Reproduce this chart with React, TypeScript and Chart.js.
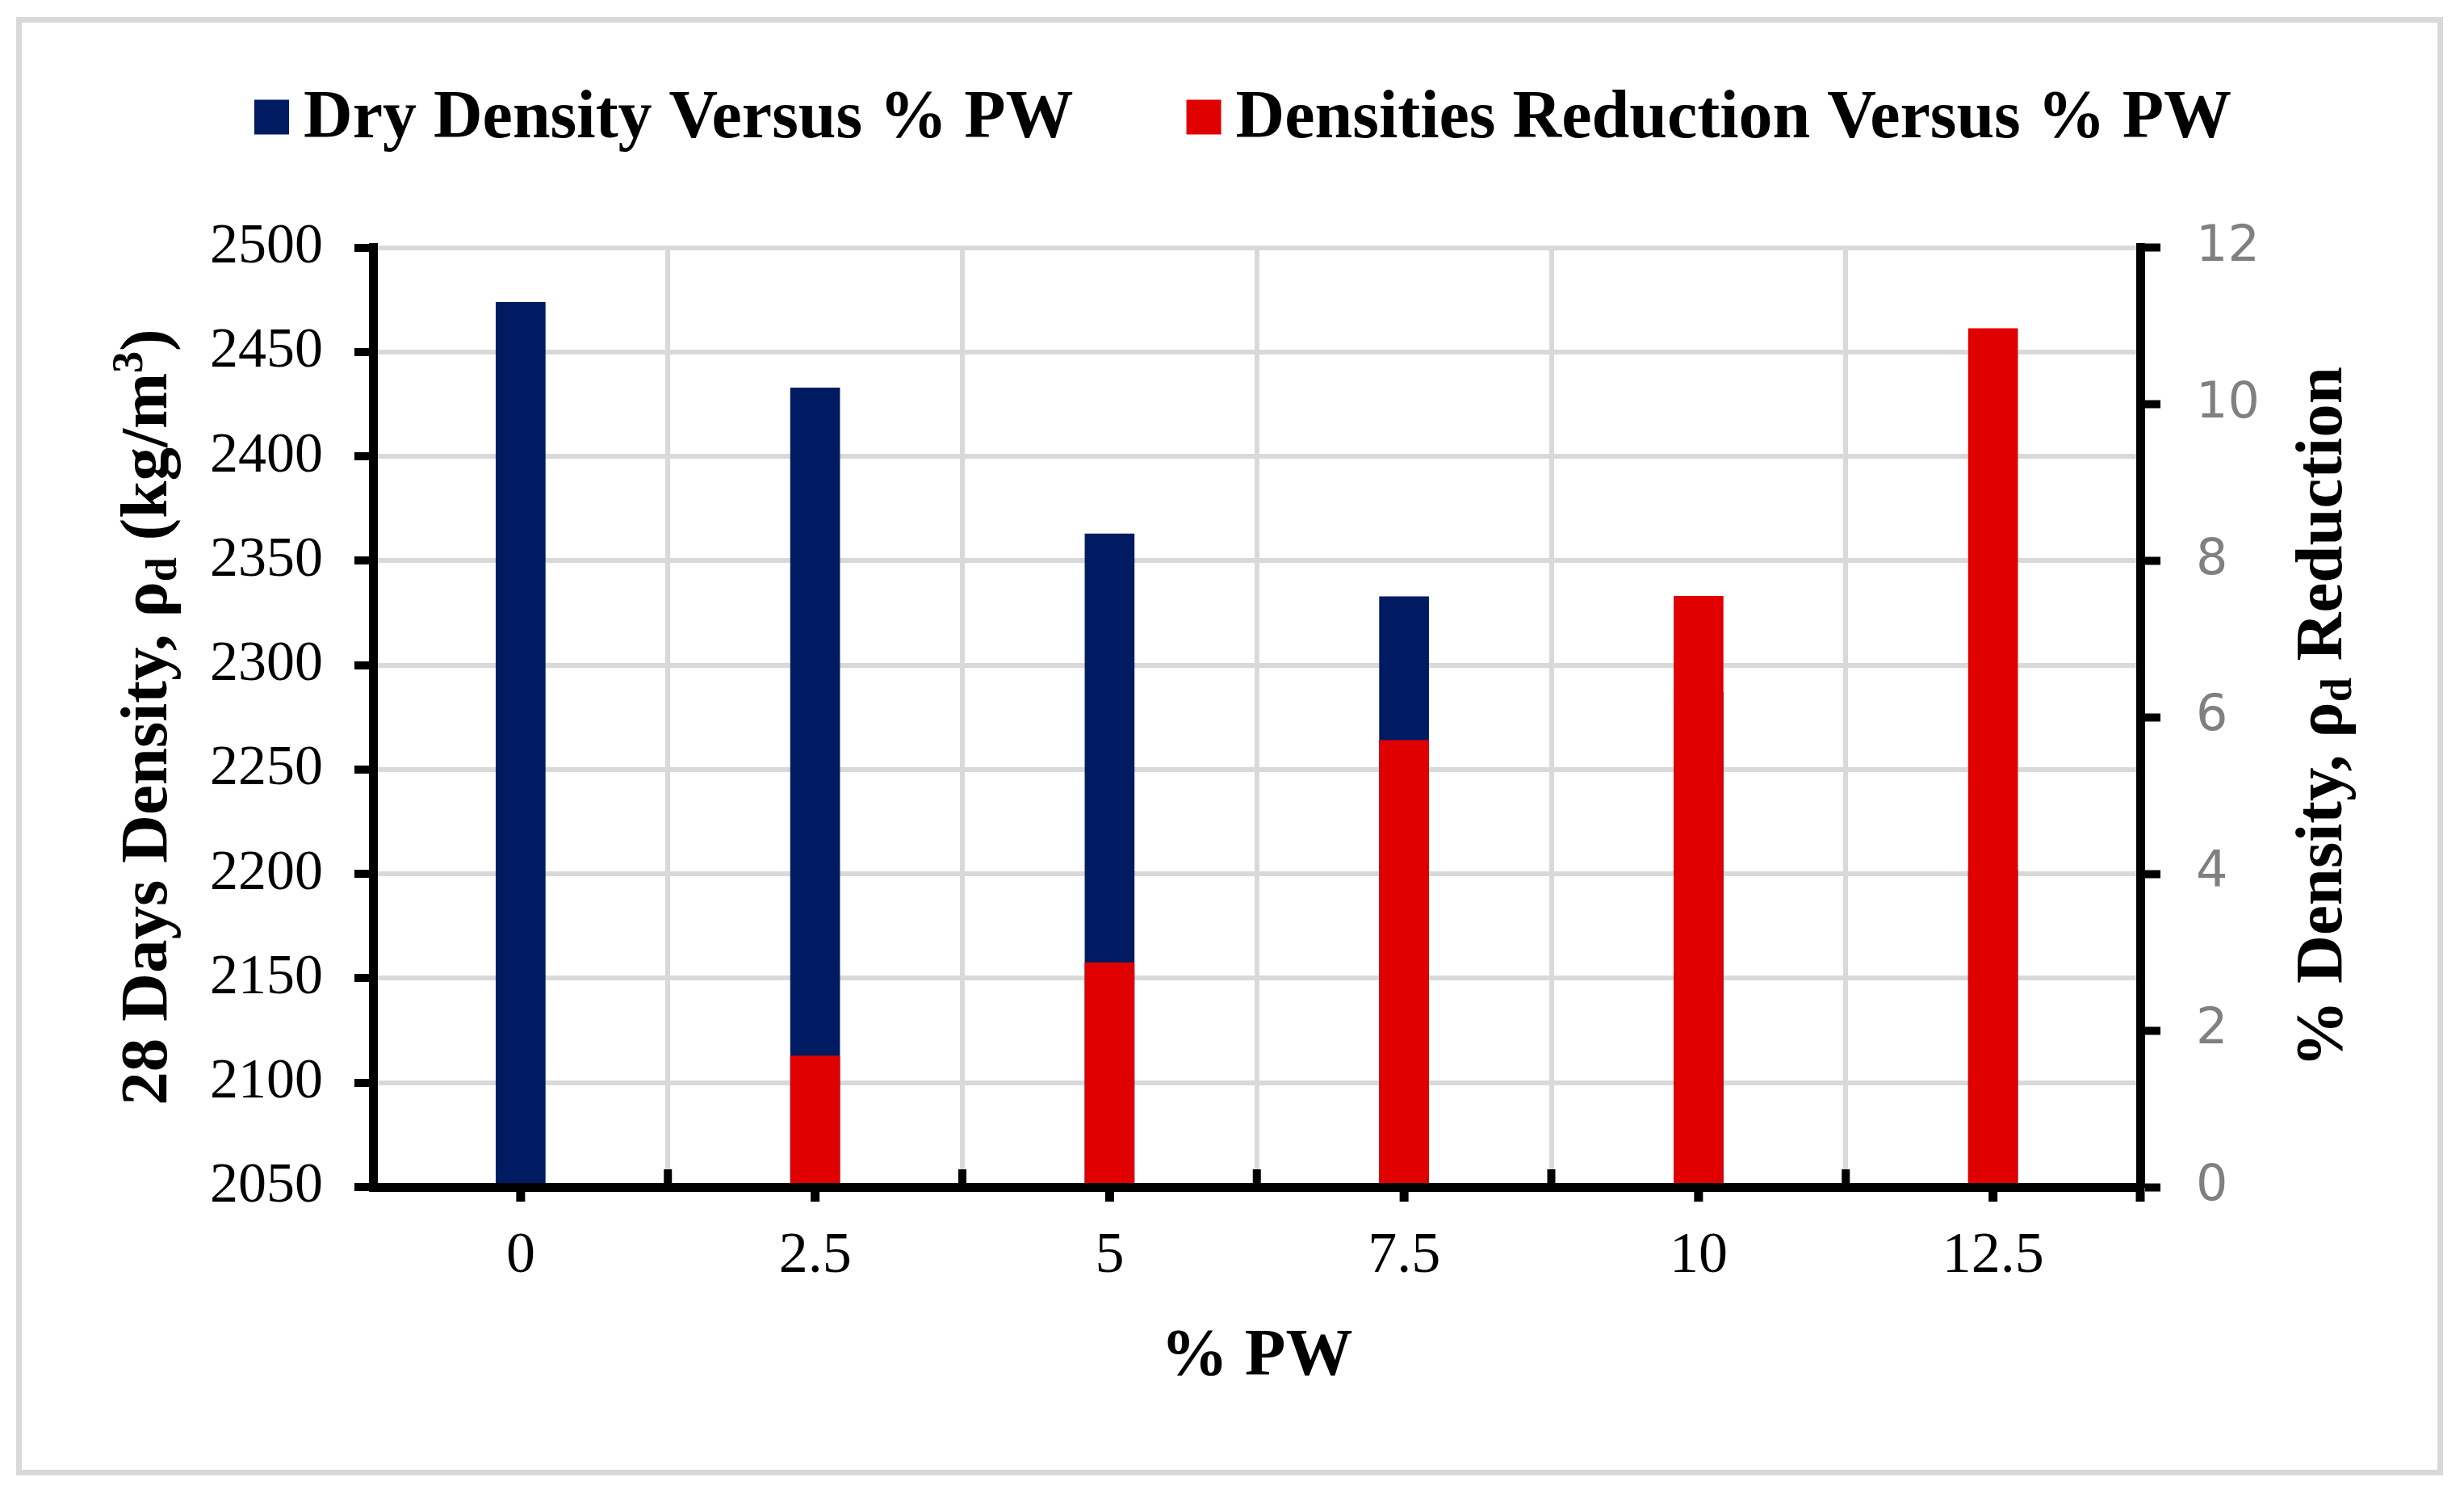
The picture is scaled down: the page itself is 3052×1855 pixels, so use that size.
import React, { useEffect, useRef } from 'react';
import { Chart, registerables } from 'chart.js';

Chart.register(...registerables);

// ---------------- data ----------------
const pwLabels = ['0', '2.5', '5', '7.5', '10', '12.5'];
const dryDensity = [2474, 2433, 2363, 2333, 2287, 2202];
const densityReduction = [0, 1.68, 2.87, 5.71, 7.55, 10.97];
const seriesNames = ['Dry Density Versus % PW', 'Densities Reduction Versus % PW'];
const seriesColors = ['#001b61', '#e00000'];
const leftAxisRange = [2050, 2500, 50];
const rightAxisRange = [0, 12, 2];
const xTitle = '% PW';

// ---------------- layout / style ----------------
const W = 3052;
const H = 1855;
const SERIF = '"Liberation Serif", "Times New Roman", serif';
const SANS = '"DejaVu Sans", sans-serif';
const AXIS_W = 11;
const GRID = '#d9d9d9';

type Part = { text: string; size: number; dy: number };

function drawRich(ctx: CanvasRenderingContext2D, parts: Part[], x: number, y: number, angle: number) {
  ctx.save();
  ctx.translate(x, y);
  ctx.rotate(angle);
  ctx.textBaseline = 'alphabetic';
  ctx.textAlign = 'left';
  ctx.fillStyle = '#000';
  let total = 0;
  const widths: number[] = [];
  for (const p of parts) {
    ctx.font = `bold ${p.size}px ${SERIF}`;
    const w = ctx.measureText(p.text).width;
    widths.push(w);
    total += w;
  }
  let cx = -total / 2;
  parts.forEach((p, i) => {
    ctx.font = `bold ${p.size}px ${SERIF}`;
    ctx.fillText(p.text, cx, p.dy);
    cx += widths[i];
  });
  ctx.restore();
}

const decorPlugin = {
  id: 'decor',
  beforeDraw(chart: any) {
    const ctx: CanvasRenderingContext2D = chart.ctx;
    ctx.save();
    ctx.fillStyle = '#fff';
    ctx.fillRect(0, 0, W, H);
    ctx.strokeStyle = GRID;
    ctx.lineWidth = 7;
    ctx.strokeRect(23.5, 24.5, 2999, 1799);
    ctx.restore();
  },
  afterDraw(chart: any) {
    const ctx: CanvasRenderingContext2D = chart.ctx;
    const area = chart.chartArea;
    const xs = chart.scales.x;
    ctx.save();
    ctx.strokeStyle = '#000';
    // center ticks (outward, below axis)
    ctx.lineWidth = 11;
    for (let i = 0; i < pwLabels.length; i++) {
      const px = xs.getPixelForValue(i);
      ctx.beginPath();
      ctx.moveTo(px, area.bottom);
      ctx.lineTo(px, area.bottom + 18);
      ctx.stroke();
    }
    // right axis extension below
    ctx.beginPath();
    ctx.moveTo(area.right, area.bottom);
    ctx.lineTo(area.right, area.bottom + 18);
    ctx.stroke();
    // boundary ticks (inward, above axis)
    ctx.lineWidth = 10;
    for (let i = 0; i < pwLabels.length - 1; i++) {
      const px = (xs.getPixelForValue(i) + xs.getPixelForValue(i + 1)) / 2;
      ctx.beginPath();
      ctx.moveTo(px, area.bottom - 22);
      ctx.lineTo(px, area.bottom);
      ctx.stroke();
    }
    ctx.restore();

    // legend
    ctx.save();
    ctx.font = `bold 84px ${SERIF}`;
    ctx.textBaseline = 'alphabetic';
    ctx.textAlign = 'left';
    let bx = 315;
    seriesNames.forEach((name, i) => {
      ctx.fillStyle = seriesColors[i];
      ctx.fillRect(bx, 123.5, 43, 43);
      ctx.fillStyle = '#000';
      const tx = bx + 61;
      ctx.fillText(name, tx, 170);
      bx = tx + ctx.measureText(name).width + 140;
    });
    ctx.restore();

    // axis titles
    drawRich(ctx, [
      { text: '28 Days Density, ρ', size: 83, dy: 0 },
      { text: 'd', size: 54, dy: 12 },
      { text: ' (kg/m', size: 83, dy: 0 },
      { text: '3', size: 54, dy: -30 },
      { text: ')', size: 83, dy: 0 },
    ], 206, 888, -Math.PI / 2);
    drawRich(ctx, [
      { text: '% Density, ρ', size: 83, dy: 0 },
      { text: 'd', size: 54, dy: 12 },
      { text: ' Reduction', size: 83, dy: 0 },
    ], 2900, 888, -Math.PI / 2);
    drawRich(ctx, [{ text: xTitle, size: 83, dy: 0 }], (area.left + area.right) / 2, 1702, 0);
  },
};

export default function App() {
  const ref = useRef<HTMLCanvasElement>(null);
  useEffect(() => {
    if (!ref.current) return;
    const chart = new Chart(ref.current, {
      type: 'bar',
      data: {
        labels: pwLabels,
        datasets: [
          {
            label: seriesNames[0],
            data: dryDensity,
            backgroundColor: seriesColors[0],
            yAxisID: 'y',
            order: 2,
            grouped: false,
            barPercentage: 0.169,
            categoryPercentage: 1,
            borderWidth: 0,
          } as any,
          {
            label: seriesNames[1],
            data: densityReduction,
            backgroundColor: seriesColors[1],
            yAxisID: 'y1',
            order: 1,
            grouped: false,
            barPercentage: 0.169,
            categoryPercentage: 1,
            borderWidth: 0,
          } as any,
        ],
      },
      options: {
        responsive: false,
        devicePixelRatio: 1,
        animation: false,
        events: [],
        layout: { padding: { top: 306.7, left: 0, right: 0, bottom: 0 } },
        plugins: {
          legend: { display: false },
          tooltip: { enabled: false },
          title: { display: false },
        },
        scales: {
          x: {
            type: 'category',
            offset: true,
            grid: { offset: true, color: GRID, lineWidth: 6, drawTicks: false },
            border: { display: true, color: '#000', width: AXIS_W, z: 1 } as any,
            ticks: {
              color: '#000',
              font: { family: SERIF, size: 72 },
              padding: 43,
              maxRotation: 0,
              autoSkip: false,
            },
            afterFit: (s: any) => { s.height = 385; },
          },
          y: {
            position: 'left',
            min: leftAxisRange[0],
            max: leftAxisRange[1],
            ticks: {
              stepSize: leftAxisRange[2],
              color: '#000',
              font: { family: SERIF, size: 70 },
              padding: 39,
              callback: (v: any) => String(v),
            },
            grid: { color: GRID, lineWidth: 6, tickColor: '#000', tickWidth: 10, tickLength: 23.5 },
            border: { color: '#000', width: AXIS_W, z: 1 } as any,
            afterFit: (s: any) => { s.width = 462.5; },
          },
          y1: {
            position: 'right',
            min: rightAxisRange[0],
            max: rightAxisRange[1],
            ticks: {
              stepSize: rightAxisRange[2],
              color: '#808080',
              font: { family: SANS, size: 62 },
              padding: 44,
              callback: (v: any) => String(v),
            },
            grid: { drawOnChartArea: false, tickColor: '#000', tickWidth: 10, tickLength: 25 },
            border: { color: '#000', width: AXIS_W, z: 1 } as any,
            afterFit: (s: any) => { s.width = 401; },
          },
        },
      } as any,
      plugins: [decorPlugin],
    });
    return () => chart.destroy();
  }, []);
  return (
    <div style={{ position: 'fixed', left: 0, top: 0, width: W, height: H, background: '#fff' }}>
      <canvas ref={ref} width={W} height={H} style={{ display: 'block', width: W, height: H }} />
    </div>
  );
}
